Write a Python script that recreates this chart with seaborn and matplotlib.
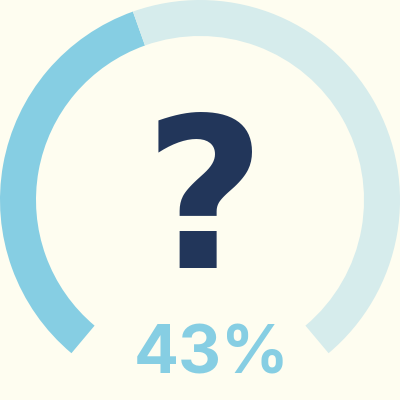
import matplotlib
matplotlib.use("Agg")
import matplotlib.pyplot as plt
import seaborn as sns

# data
percent = 43
labels = ["progress", "remaining", "gap"]
span_deg = 280
gap_share = (360 - span_deg) / span_deg * 100
values = [percent, 100 - percent, gap_share]
value_text = f"{percent}%"

bg = "#FEFDF0"
c_prog = "#86CEE3"
c_track = "#D6ECEC"
c_icon = "#22365A"

sns.set_theme(style="white")
plt.rcParams['font.family'] = ['Inter', 'DejaVu Sans']

fig = plt.figure(figsize=(4, 4), dpi=100, facecolor=bg)
ax = fig.add_axes([0, 0, 1, 1])
ax.set_facecolor(bg)

colors = sns.color_palette([c_prog, c_track, bg])
wedges, _ = ax.pie(values, colors=colors, startangle=230, counterclock=False,
                   radius=1.0, wedgeprops=dict(width=0.18, edgecolor='none', linewidth=0))
wedges[2].set_visible(False)

ax.text(0.02, -0.34, "?", ha='center', va='baseline', fontsize=151,
        fontweight='bold', color=c_icon, family=['DejaVu Sans'])
ax.text(0.06, -0.865, value_text, ha='center', va='baseline', fontsize=48,
        fontweight='bold', color=c_prog)

ax.set_xlim(-1, 1)
ax.set_ylim(-1, 1)
ax.set_aspect('equal')
ax.axis('off')
fig.savefig("out.png", dpi=100, facecolor=bg)
